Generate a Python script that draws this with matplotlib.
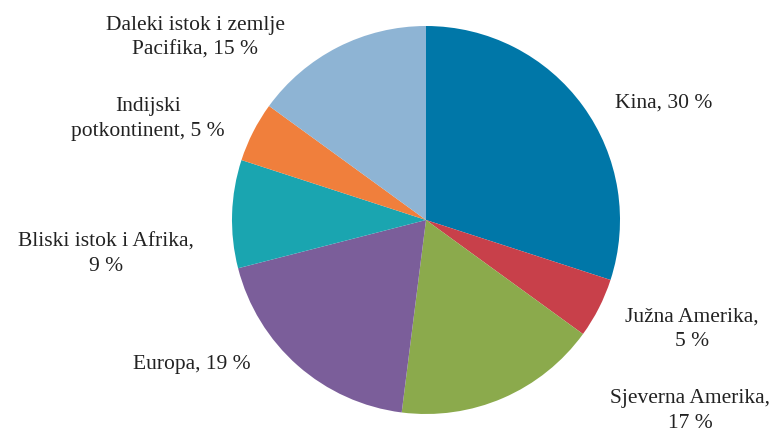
import matplotlib.pyplot as plt

# Data
regions = ["Kina", "Južna Amerika", "Sjeverna Amerika", "Europa",
           "Bliski istok i Afrika", "Indijski potkontinent",
           "Daleki istok i zemlje Pacifika"]
shares = [30, 5, 17, 19, 9, 5, 15]
label_texts = ["Kina, 30 %", "Južna Amerika,\n5 %", "Sjeverna Amerika,\n17 %",
               "Europa, 19 %", "Bliski istok i Afrika,\n9 %",
               "Indijski\npotkontinent, 5 %",
               "Daleki istok i zemlje\nPacifika, 15 %"]
colors = ["#0077A8", "#C8404A", "#8BAA4C", "#7B5E9A", "#1AA5B0",
          "#F07F3C", "#8EB4D4"]

# label positions in pixels (from top-left)
label_pos = [(664, 103), (692, 329), (690, 411), (192, 365),
             (106, 254), (148, 119), (195, 38)]

W, H = 776, 434
fig = plt.figure(figsize=(W / 100, H / 100), dpi=100)
ax = fig.add_axes([0, 0, 1, 1])

ax.pie(shares, colors=colors, startangle=90, counterclock=False,
       center=(426, H - 220), radius=194, frame=True)
ax.set_xlim(0, W)
ax.set_ylim(0, H)
ax.set_aspect("equal")
ax.axis("off")

for txt, (x, y) in zip(label_texts, label_pos):
    ax.text(x, H - y, txt, ha="center", va="center", fontsize=15.5,
            family="Liberation Serif", color="#222222", linespacing=1.4)

plt.savefig("out.png", dpi=100)
